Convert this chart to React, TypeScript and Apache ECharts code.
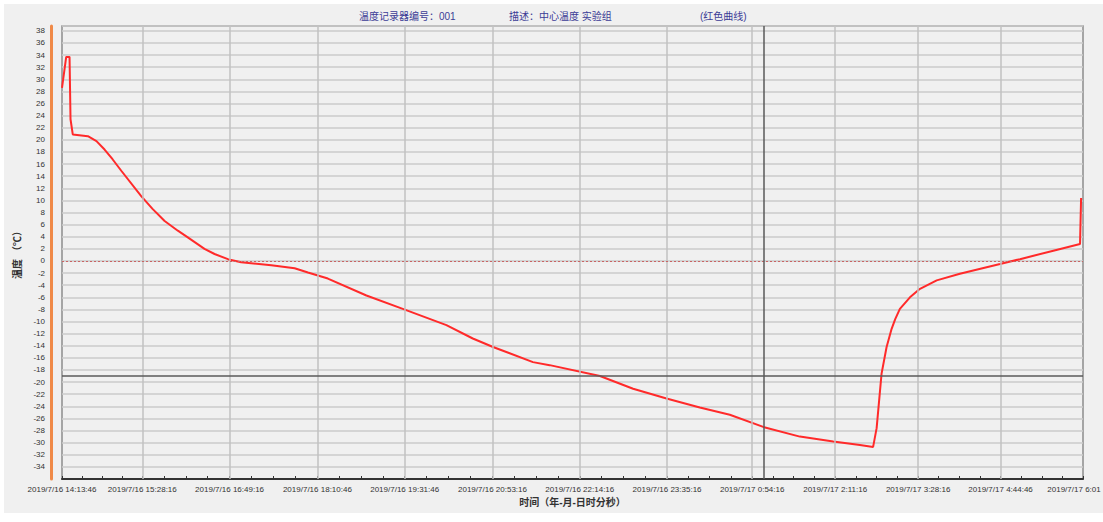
import React, { useEffect, useRef } from "react";
import * as echarts from "echarts";

// ---- data ----
const timePoints = [
  "2019/7/16 14:13:46", "2019/7/16 14:17:40", "2019/7/16 14:20:46", "2019/7/16 14:21:40",
  "2019/7/16 14:23:46", "2019/7/16 14:37:46", "2019/7/16 14:45:46", "2019/7/16 14:53:16",
  "2019/7/16 15:00:40", "2019/7/16 15:08:46", "2019/7/16 15:27:16", "2019/7/16 15:37:46",
  "2019/7/16 15:49:00", "2019/7/16 16:01:16", "2019/7/16 16:10:30", "2019/7/16 16:26:00",
  "2019/7/16 16:35:20", "2019/7/16 16:47:46", "2019/7/16 17:00:00", "2019/7/16 17:28:00",
  "2019/7/16 17:49:40", "2019/7/16 18:02:00", "2019/7/16 18:20:30", "2019/7/16 18:56:16",
  "2019/7/16 19:30:00", "2019/7/16 20:10:30", "2019/7/16 20:35:00", "2019/7/16 20:53:46",
  "2019/7/16 21:30:50", "2019/7/16 21:46:20", "2019/7/16 22:33:00", "2019/7/16 23:03:46",
  "2019/7/16 23:34:46", "2019/7/17 0:05:40", "2019/7/17 0:33:30", "2019/7/17 1:04:30",
  "2019/7/17 1:38:30", "2019/7/17 2:09:30", "2019/7/17 2:34:15", "2019/7/17 2:46:30",
  "2019/7/17 2:49:45", "2019/7/17 2:54:20", "2019/7/17 2:59:00", "2019/7/17 3:03:40",
  "2019/7/17 3:07:00", "2019/7/17 3:11:20", "2019/7/17 3:20:40", "2019/7/17 3:30:00",
  "2019/7/17 3:45:30", "2019/7/17 4:07:00", "2019/7/17 4:44:15", "2019/7/17 5:02:45",
  "2019/7/17 5:33:45", "2019/7/17 5:58:30", "2019/7/17 5:59:30",
];
const tempValues = [
  28.6, 33.7, 33.7, 23.4,
  20.9, 20.6, 19.8, 18.4,
  16.8, 14.9, 10.7, 8.6,
  6.6, 5.0, 3.9, 2.0,
  1.15, 0.3, -0.2, -0.7,
  -1.2, -1.9, -2.9, -5.7,
  -7.9, -10.6, -12.8, -14.2,
  -16.7, -17.2, -19.0, -21.1,
  -22.7, -24.2, -25.4, -27.4,
  -29.0, -29.8, -30.4, -30.7,
  -27.6, -18.6, -14.2, -11.2,
  -9.6, -7.9, -6.0, -4.6,
  -3.2, -2.1, -0.5, 0.3,
  1.7, 2.8, 10.4,
];
const tickTimes = [
  "2019/7/16 14:13:46", "2019/7/16 15:28:16", "2019/7/16 16:49:16", "2019/7/16 18:10:46",
  "2019/7/16 19:31:46", "2019/7/16 20:53:16", "2019/7/16 22:14:16", "2019/7/16 23:35:16",
  "2019/7/17 0:54:16", "2019/7/17 2:11:16", "2019/7/17 3:28:16", "2019/7/17 4:44:46",
  "2019/7/17 6:01:16",
];
const lastTickLabel = "2019/7/17 6:01";
const cursorTime = "2019/7/17 1:05:10";
const cursorTemp = -19;
const titleParts = ["温度记录器编号：001", "描述：中心温度 实验组", "(红色曲线)"];
const xAxisName = "时间（年-月-日时分秒）";
const yAxisName = "温度 （℃）";

function parseTime(s: string): number {
  const [d, t] = s.split(" ");
  const [Y, M, D] = d.split("/").map(Number);
  const [h, m, sec] = t.split(":").map(Number);
  return new Date(Y, M - 1, D, h, m, sec).getTime();
}

function fmtTime(v: number): string {
  const d = new Date(v);
  const p = (n: number) => (n < 10 ? "0" + n : "" + n);
  return `${d.getFullYear()}/${d.getMonth() + 1}/${d.getDate()} ${d.getHours()}:${p(d.getMinutes())}:${p(d.getSeconds())}`;
}

export default function App() {
  const ref = useRef<HTMLDivElement>(null);
  useEffect(() => {
    if (!ref.current) return;
    const chart = echarts.init(ref.current, undefined, { renderer: "svg" });
    const majorTs = tickTimes.map(parseTime);
    const lastTs = majorTs[majorTs.length - 1];
    const minorTs: number[] = [];
    for (let i = 0; i < majorTs.length - 1; i++) {
      const a = majorTs[i];
      const b = majorTs[i + 1];
      for (let k = 0; k < 4; k++) minorTs.push(a + ((b - a) * k) / 4);
    }
    minorTs.push(lastTs);
    const data = timePoints.map((t, i) => [parseTime(t), tempValues[i]]);
    const font = "'Liberation Sans', 'Noto Sans CJK SC', sans-serif";
    const titleColor = "#3c3c96";
    const titleStyle = { fontSize: 10, fontWeight: "normal", color: titleColor, fontFamily: font };
    chart.setOption({
      animation: false,
      backgroundColor: "#f0f0f0",
      textStyle: { fontFamily: font },
      title: [
        { text: titleParts[0], left: 359, top: 11, padding: 0, textStyle: titleStyle },
        { text: titleParts[1], left: 509, top: 11, padding: 0, textStyle: titleStyle },
        { text: titleParts[2], left: 700, top: 11, padding: 0, textStyle: titleStyle },
      ],
      grid: {
        left: 62, right: 20, top: 26, bottom: 43,
        containLabel: false,
        outerBoundsMode: "none",
        show: true, borderColor: "#8c8c8c", borderWidth: 1.5, backgroundColor: "transparent",
      },
      xAxis: {
        type: "value",
        scale: true,
        min: majorTs[0],
        max: lastTs,
        name: xAxisName,
        nameLocation: "middle",
        nameGap: 16,
        nameTextStyle: { fontSize: 10, fontWeight: "bold", color: "#333", fontFamily: font },
        axisLine: { show: true, onZero: false, lineStyle: { color: "#333", width: 2 } },
        axisTick: { show: true, inside: true, length: 3, customValues: minorTs, lineStyle: { color: "#333" } },
        axisLabel: {
          customValues: majorTs,
          formatter: (v: number) => (v === lastTs ? `{last|${lastTickLabel}}` : fmtTime(v)),
          rich: { last: { fontSize: 8, color: "#333", fontFamily: font, padding: [0, 18, 0, 0] } },
          fontSize: 8, color: "#333", margin: 6, hideOverlap: false, fontFamily: font,
        },
        splitLine: { show: false },
      },
      yAxis: {
        type: "value",
        min: -36,
        max: 38.8,
        interval: 2,
        offset: 11,
        name: yAxisName,
        nameLocation: "middle",
        nameRotate: 90,
        nameGap: 23,
        nameTextStyle: { fontSize: 10, fontWeight: "bold", color: "#333", fontFamily: font },
        axisLine: { show: true, onZero: false, lineStyle: { color: "#f08a48", width: 3 } },
        axisTick: { show: false },
        axisLabel: {
          formatter: (v: number) => (Number.isInteger(v) && v > -36 && v < 38.5 ? String(v) : ""),
          fontSize: 8, color: "#333", margin: 6, fontFamily: font,
        },
        splitLine: { show: true, lineStyle: { color: "#cbcbcb", width: 1.5 } },
      },
      series: [
        {
          type: "line", data: [], z: 1, silent: true,
          markLine: {
            silent: true, symbol: "none", label: { show: false },
            lineStyle: { color: "#c2c2c2", type: "solid", width: 1.5 },
            data: majorTs.slice(1, -1).map((t) => ({ xAxis: t })),
          },
        },
        {
          type: "line", data: [], z: 2, silent: true,
          markLine: {
            silent: true, symbol: "none", label: { show: false },
            data: [{ yAxis: 0, lineStyle: { color: "#c86464", type: [2, 2], width: 1 } }],
          },
        },
        {
          type: "line", data, z: 3, showSymbol: false, symbol: "none",
          lineStyle: { color: "#ff2a2a", width: 2 },
        },
        {
          type: "line", data: [], z: 4, silent: true,
          markLine: {
            silent: true, symbol: "none", label: { show: false },
            lineStyle: { color: "#5a5a5a", type: "solid", width: 1.5 },
            data: [{ yAxis: cursorTemp }, { xAxis: parseTime(cursorTime) }],
          },
        },
      ],
    });
    return () => chart.dispose();
  }, []);
  return (
    <div style={{ position: "fixed", left: 0, top: 0, width: 1103, height: 522, background: "#fff" }}>
      <div ref={ref} style={{ position: "absolute", left: 0, top: 0, width: 1103, height: 522 }} />
      <div
        style={{
          position: "absolute", left: 0, top: 0, width: 1103, height: 522, boxSizing: "border-box",
          borderStyle: "solid", borderColor: "#fff", borderWidth: "4px 0px 9px 4px", pointerEvents: "none",
        }}
      />
    </div>
  );
}
